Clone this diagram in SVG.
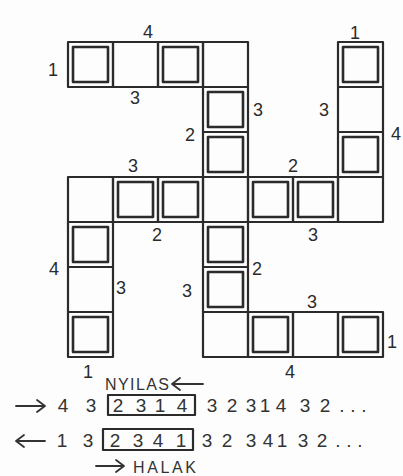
<svg xmlns="http://www.w3.org/2000/svg" width="403" height="476" viewBox="0 0 403 476">
<defs>
<style>
.c{fill:none;stroke:#2b2b2b;stroke-width:2.2;stroke-linejoin:round}
.i{fill:none;stroke:#2b2b2b;stroke-width:2.6;stroke-linejoin:round}
.t{font-family:"Liberation Sans",Arial,sans-serif;font-size:18px;fill:#2b2b2b;text-anchor:middle}
.s{font-family:"Liberation Sans",Arial,sans-serif;font-size:19px;fill:#333;text-anchor:middle}
.w{font-family:"Liberation Sans",Arial,sans-serif;font-size:16px;fill:#333}
.a{fill:none;stroke:#333;stroke-width:1.8;stroke-linecap:round;stroke-linejoin:round}
</style>
</defs>
<rect width="403" height="476" fill="#fdfdfd"/>
<!-- top arm -->
<g id="cell-0-0"><rect class="c" x="68" y="42" width="45" height="45"/><rect class="i" x="73" y="47" width="35" height="35"/></g>
<g id="cell-1-0"><rect class="c" x="113" y="42" width="45" height="45"/></g>
<g id="cell-2-0"><rect class="c" x="158" y="42" width="45" height="45"/><rect class="i" x="163" y="47" width="35" height="35"/></g>
<g id="cell-3-0"><rect class="c" x="203" y="42" width="45" height="45"/></g>
<g id="cell-3-1"><rect class="c" x="203" y="87" width="45" height="45"/><rect class="i" x="208" y="92" width="35" height="35"/></g>
<g id="cell-3-2"><rect class="c" x="203" y="132" width="45" height="45"/><rect class="i" x="208" y="137" width="35" height="35"/></g>
<!-- right arm -->
<g id="cell-6-0"><rect class="c" x="338" y="42" width="45" height="45"/><rect class="i" x="343" y="47" width="35" height="35"/></g>
<g id="cell-6-1"><rect class="c" x="338" y="87" width="45" height="45"/></g>
<g id="cell-6-2"><rect class="c" x="338" y="132" width="45" height="45"/><rect class="i" x="343" y="137" width="35" height="35"/></g>
<!-- middle row -->
<g id="cell-0-3"><rect class="c" x="68" y="177" width="45" height="45"/></g>
<g id="cell-1-3"><rect class="c" x="113" y="177" width="45" height="45"/><rect class="i" x="118" y="182" width="35" height="35"/></g>
<g id="cell-2-3"><rect class="c" x="158" y="177" width="45" height="45"/><rect class="i" x="163" y="182" width="35" height="35"/></g>
<g id="cell-3-3"><rect class="c" x="203" y="177" width="45" height="45"/></g>
<g id="cell-4-3"><rect class="c" x="248" y="177" width="45" height="45"/><rect class="i" x="253" y="182" width="35" height="35"/></g>
<g id="cell-5-3"><rect class="c" x="293" y="177" width="45" height="45"/><rect class="i" x="298" y="182" width="35" height="35"/></g>
<g id="cell-6-3"><rect class="c" x="338" y="177" width="45" height="45"/></g>
<!-- left arm -->
<g id="cell-0-4"><rect class="c" x="68" y="222" width="45" height="45"/><rect class="i" x="73" y="227" width="35" height="35"/></g>
<g id="cell-0-5"><rect class="c" x="68" y="267" width="45" height="45"/></g>
<g id="cell-0-6"><rect class="c" x="68" y="312" width="45" height="45"/><rect class="i" x="73" y="317" width="35" height="35"/></g>
<!-- lower vertical -->
<g id="cell-3-4"><rect class="c" x="203" y="222" width="45" height="45"/><rect class="i" x="208" y="227" width="35" height="35"/></g>
<g id="cell-3-5"><rect class="c" x="203" y="267" width="45" height="45"/><rect class="i" x="208" y="272" width="35" height="35"/></g>
<!-- bottom arm -->
<g id="cell-3-6"><rect class="c" x="203" y="312" width="45" height="45"/></g>
<g id="cell-4-6"><rect class="c" x="248" y="312" width="45" height="45"/><rect class="i" x="253" y="317" width="35" height="35"/></g>
<g id="cell-5-6"><rect class="c" x="293" y="312" width="45" height="45"/></g>
<g id="cell-6-6"><rect class="c" x="338" y="312" width="45" height="45"/><rect class="i" x="343" y="317" width="35" height="35"/></g>
<!-- labels -->
<g id="labels">
<text class="t" x="148" y="38">4</text>
<text class="t" x="53" y="76">1</text>
<text class="t" x="135" y="104">3</text>
<text class="t" x="190" y="141">2</text>
<text class="t" x="258" y="116">3</text>
<text class="t" x="355" y="39">1</text>
<text class="t" x="324" y="116">3</text>
<text class="t" x="396" y="140">4</text>
<text class="t" x="293" y="172">2</text>
<text class="t" x="133" y="172">3</text>
<text class="t" x="157" y="241">2</text>
<text class="t" x="313" y="241">3</text>
<text class="t" x="54" y="275">4</text>
<text class="t" x="121" y="294">3</text>
<text class="t" x="187" y="297">3</text>
<text class="t" x="257" y="275">2</text>
<text class="t" x="312" y="308">3</text>
<text class="t" x="392" y="348">1</text>
<text class="t" x="88" y="378">1</text>
<text class="t" x="290" y="378">4</text>
</g>
<!-- sequences -->
<g id="sequence">
<text class="w" x="105" y="390" textLength="64">NYILAS</text>
<path class="a" d="M203 384 H172 M180 378 L172 384 L180 390"/>
<path class="a" d="M16 406 H45 M37 400 L45 406 L37 412"/>
<rect class="c" x="108" y="395" width="87" height="20" stroke-width="1.8"/>
<text class="s" x="63 91 118 141 160 182 212 232 251 265 281 305 325 342 353 364" y="412">4323143231432...</text>
<path class="a" d="M45 441 H16 M24 435 L16 441 L24 447"/>
<rect class="c" x="103" y="429" width="90" height="21" stroke-width="1.8"/>
<text class="s" x="62 88 115 138 158 181 207 227 251 268 282 303 322 338 349 360" y="447">1323413234132...</text>
<path class="a" d="M96 466 H124 M116 460 L124 466 L116 472"/>
<text class="w" x="133" y="473" textLength="63">HALAK</text>
</g>
</svg>
